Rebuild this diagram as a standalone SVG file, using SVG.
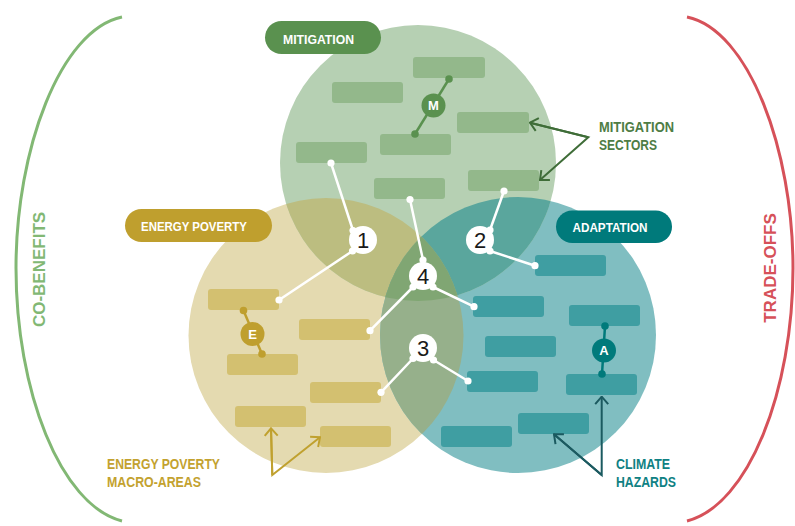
<svg xmlns="http://www.w3.org/2000/svg" width="795" height="526" viewBox="0 0 795 526">
  <style>
    .lbl { font-family: "Liberation Sans", Arial, sans-serif; font-weight: bold; }
    .pill-text { font-size: 13px; fill: #ffffff; }
    .side { font-size: 14.5px; }
    .num { font-family: "Liberation Sans", Arial, sans-serif; font-size: 22px; fill: #1a1a1a; text-anchor: middle; }
    .badge-text { font-family: "Liberation Sans", Arial, sans-serif; font-weight: bold; font-size: 13px; fill: #ffffff; text-anchor: middle; }
    .box-m { fill: #93b88b; }
    .box-e { fill: #d3c070; }
    .box-a { fill: #3f9ea2; }
    .link { stroke: #ffffff; stroke-width: 2.5; fill: none; stroke-linecap: round; }
    .dot { fill: #ffffff; }
    .bubble { fill: #ffffff; }
  </style>
  <defs>
    <clipPath id="clipM"><circle cx="418" cy="163" r="138"/></clipPath>
    <clipPath id="clipE"><circle cx="326" cy="335.5" r="137.5"/></clipPath>
    <clipPath id="clipA"><circle cx="518" cy="335" r="138"/></clipPath>
    <marker id="chev-m" markerUnits="userSpaceOnUse" viewBox="-9 -8 10 16" refX="0" refY="0" markerWidth="10" markerHeight="16" orient="auto">
      <path d="M-7.5,-6.5 L0,0 L-7.5,6.5" fill="none" stroke="#3f6d38" stroke-width="2"/>
    </marker>
    <marker id="chev-e" markerUnits="userSpaceOnUse" viewBox="-9 -8 10 16" refX="0" refY="0" markerWidth="10" markerHeight="16" orient="auto">
      <path d="M-7.5,-6.5 L0,0 L-7.5,6.5" fill="none" stroke="#c0a12f" stroke-width="2"/>
    </marker>
    <marker id="chev-a" markerUnits="userSpaceOnUse" viewBox="-9 -8 10 16" refX="0" refY="0" markerWidth="10" markerHeight="16" orient="auto">
      <path d="M-7.5,-6.5 L0,0 L-7.5,6.5" fill="none" stroke="#1b5a60" stroke-width="2"/>
    </marker>
  </defs>

  <!-- brackets -->
  <g id="co-benefits">
    <path d="M122,17 C60,30 16,150 16,268 C16,390 60,505 122,521" fill="none" stroke="#82b874" stroke-width="3"/>
    <text class="lbl" font-size="17" fill="#82b874" text-anchor="middle" transform="translate(45,269.5) rotate(-90)">CO-BENEFITS</text>
  </g>
  <g id="trade-offs">
    <path d="M687,17 C749,30 793,150 793,268 C793,390 749,505 687,521" fill="none" stroke="#d65159" stroke-width="3"/>
    <text class="lbl" font-size="17" fill="#d65159" text-anchor="middle" transform="translate(776,268) rotate(-90)">TRADE-OFFS</text>
  </g>

  <!-- circles and their overlaps -->
  <g id="circles">
    <circle cx="326" cy="335.5" r="137.5" fill="#e4dab0"/>
    <circle cx="518" cy="335" r="138" fill="#80bec1"/>
    <circle cx="418" cy="163" r="138" fill="#b6d0b3"/>
    <circle cx="418" cy="163" r="138" fill="#bcbd80" clip-path="url(#clipE)"/>
    <circle cx="418" cy="163" r="138" fill="#5aa69d" clip-path="url(#clipA)"/>
    <circle cx="326" cy="335.5" r="137.5" fill="#96b08b" clip-path="url(#clipA)"/>
    <g clip-path="url(#clipE)">
      <circle cx="418" cy="163" r="138" fill="#80a673" clip-path="url(#clipA)"/>
    </g>
  </g>

  <!-- mitigation -->
  <g id="mitigation">
    <rect x="265" y="21" width="116" height="33" rx="16.5" fill="#5a914f"/>
    <text class="lbl pill-text" x="283" y="44.3" textLength="71" lengthAdjust="spacingAndGlyphs">MITIGATION</text>
    <rect class="box-m" x="413" y="57" width="72" height="21" rx="3"/>
    <rect class="box-m" x="332" y="82" width="71" height="21" rx="3"/>
    <rect class="box-m" x="457" y="112" width="72" height="21" rx="3"/>
    <rect class="box-m" x="296" y="142" width="71" height="21" rx="3"/>
    <rect class="box-m" x="380" y="134" width="71" height="21" rx="3"/>
    <rect class="box-m" x="374" y="178" width="71" height="21" rx="3"/>
    <rect class="box-m" x="468" y="170" width="71" height="21" rx="3"/>
    <line x1="449" y1="79" x2="415" y2="134" stroke="#5a914f" stroke-width="2.5"/>
    <circle cx="449" cy="79" r="3.8" fill="#5a914f"/>
    <circle cx="415" cy="134" r="3.8" fill="#5a914f"/>
    <circle cx="433.5" cy="105.5" r="12" fill="#5a914f"/>
    <text class="badge-text" x="433.5" y="110.2">M</text>
  </g>

  <!-- energy poverty -->
  <g id="energy-poverty">
    <rect x="125" y="209" width="147" height="33" rx="16.5" fill="#bf9f2e"/>
    <text class="lbl pill-text" x="141" y="231" textLength="106" lengthAdjust="spacingAndGlyphs">ENERGY POVERTY</text>
    <rect class="box-e" x="208" y="289" width="71" height="21" rx="3"/>
    <rect class="box-e" x="299" y="319" width="71" height="21" rx="3"/>
    <rect class="box-e" x="227" y="354" width="71" height="21" rx="3"/>
    <rect class="box-e" x="310" y="382" width="71" height="21" rx="3"/>
    <rect class="box-e" x="235" y="406" width="71" height="21" rx="3"/>
    <rect class="box-e" x="320" y="426" width="71" height="21" rx="3"/>
    <line x1="243.5" y1="310.5" x2="262" y2="354" stroke="#bf9f2e" stroke-width="2.5"/>
    <circle cx="243.5" cy="310.5" r="3.8" fill="#bf9f2e"/>
    <circle cx="262" cy="354" r="3.8" fill="#bf9f2e"/>
    <circle cx="252.5" cy="334" r="12" fill="#bf9f2e"/>
    <text class="badge-text" x="252.5" y="338.7">E</text>
  </g>

  <!-- adaptation -->
  <g id="adaptation">
    <rect x="556" y="210.5" width="116" height="32.5" rx="16.25" fill="#007a7b"/>
    <text class="lbl pill-text" x="572.5" y="232" textLength="75" lengthAdjust="spacingAndGlyphs">ADAPTATION</text>
    <rect class="box-a" x="535" y="255" width="71" height="21" rx="3"/>
    <rect class="box-a" x="473" y="296" width="71" height="21" rx="3"/>
    <rect class="box-a" x="569" y="305" width="71" height="21" rx="3"/>
    <rect class="box-a" x="485" y="336" width="71" height="21" rx="3"/>
    <rect class="box-a" x="467" y="371" width="71" height="21" rx="3"/>
    <rect class="box-a" x="566" y="374" width="71" height="21" rx="3"/>
    <rect class="box-a" x="518" y="413" width="71" height="21" rx="3"/>
    <rect class="box-a" x="441" y="426" width="71" height="21" rx="3"/>
    <line x1="605" y1="326" x2="602" y2="374" stroke="#007a7b" stroke-width="2.5"/>
    <circle cx="605" cy="326" r="3.8" fill="#007a7b"/>
    <circle cx="602" cy="374" r="3.8" fill="#007a7b"/>
    <circle cx="604" cy="350.5" r="12" fill="#007a7b"/>
    <text class="badge-text" x="604" y="355.2">A</text>
  </g>

  <!-- links from the intersection numbers to the boxes -->
  <g id="connectors">
    <path class="link" d="M331,163 L353,230.5"/>
    <path class="link" d="M352.5,251 L279,300"/>
    <path class="link" d="M504,191 L490,230"/>
    <path class="link" d="M490,251 L535,265.7"/>
    <path class="link" d="M410,199.5 L423,260"/>
    <path class="link" d="M413,287 L370,330.7"/>
    <path class="link" d="M433,287 L474,306.7"/>
    <path class="link" d="M413,358.5 L381,392.3"/>
    <path class="link" d="M433.5,360 L468,381"/>
    <g class="dot">
      <circle cx="331" cy="163" r="3.6"/>
      <circle cx="279" cy="300" r="3.6"/>
      <circle cx="504" cy="191" r="3.6"/>
      <circle cx="535" cy="265.7" r="3.6"/>
      <circle cx="410" cy="199.5" r="3.6"/>
      <circle cx="370" cy="330.7" r="3.6"/>
      <circle cx="474" cy="306.7" r="3.6"/>
      <circle cx="381" cy="392.3" r="3.6"/>
      <circle cx="468" cy="381" r="3.6"/>
    </g>
    <!-- pointer arrows for the side labels -->
    <path d="M530,122.7 L588.3,137.3 L540,180" fill="none" stroke="#3f6d38" stroke-width="2" marker-end="url(#chev-m)"/>
    <path d="M588.3,137.3 L530,122.7" fill="none" stroke="#3f6d38" stroke-width="2" marker-end="url(#chev-m)"/>
    <path d="M271,428.3 L272.3,475 L320,437.3" fill="none" stroke="#c0a12f" stroke-width="2" marker-end="url(#chev-e)"/>
    <path d="M272.3,475 L271,428.3" fill="none" stroke="#c0a12f" stroke-width="2" marker-end="url(#chev-e)"/>
    <path d="M554,434.3 L601.7,475 L601.7,396.7" fill="none" stroke="#1b5a60" stroke-width="2" marker-end="url(#chev-a)"/>
    <path d="M601.7,475 L554,434.3" fill="none" stroke="#1b5a60" stroke-width="2" marker-end="url(#chev-a)"/>
  </g>

  <!-- intersection numbers -->
  <g id="n1">
    <circle class="bubble" cx="363" cy="240" r="14"/>
    <circle class="dot" cx="353" cy="230.5" r="3.6"/>
    <circle class="dot" cx="352.5" cy="251" r="3.6"/>
    <text class="num" x="363" y="248">1</text>
  </g>
  <g id="n2">
    <circle class="bubble" cx="480" cy="240" r="14"/>
    <circle class="dot" cx="490" cy="230" r="3.6"/>
    <circle class="dot" cx="490" cy="251" r="3.6"/>
    <text class="num" x="480" y="248">2</text>
  </g>
  <g id="n4">
    <circle class="bubble" cx="423" cy="276" r="14"/>
    <circle class="dot" cx="423" cy="260" r="3.6"/>
    <circle class="dot" cx="413" cy="287" r="3.6"/>
    <circle class="dot" cx="433" cy="287" r="3.6"/>
    <text class="num" x="423" y="284">4</text>
  </g>
  <g id="n3">
    <circle class="bubble" cx="423" cy="348" r="14"/>
    <circle class="dot" cx="413" cy="358.5" r="3.6"/>
    <circle class="dot" cx="433.5" cy="360" r="3.6"/>
    <text class="num" x="423" y="356">3</text>
  </g>

  <!-- side labels -->
  <g id="mitigation-sectors">
    <text class="lbl side" fill="#4e7d45" x="599" y="131.5" textLength="75" lengthAdjust="spacingAndGlyphs">MITIGATION</text>
    <text class="lbl side" fill="#4e7d45" x="599" y="150" textLength="58" lengthAdjust="spacingAndGlyphs">SECTORS</text>
  </g>
  <g id="energy-poverty-macro-areas">
    <text class="lbl side" fill="#c3a22f" x="107" y="469.3" textLength="113" lengthAdjust="spacingAndGlyphs">ENERGY POVERTY</text>
    <text class="lbl side" fill="#c3a22f" x="107" y="487.3" textLength="94" lengthAdjust="spacingAndGlyphs">MACRO-AREAS</text>
  </g>
  <g id="climate-hazards">
    <text class="lbl side" fill="#0f8183" x="616" y="469.3" textLength="54" lengthAdjust="spacingAndGlyphs">CLIMATE</text>
    <text class="lbl side" fill="#0f8183" x="616" y="486.7" textLength="60" lengthAdjust="spacingAndGlyphs">HAZARDS</text>
  </g>
</svg>
